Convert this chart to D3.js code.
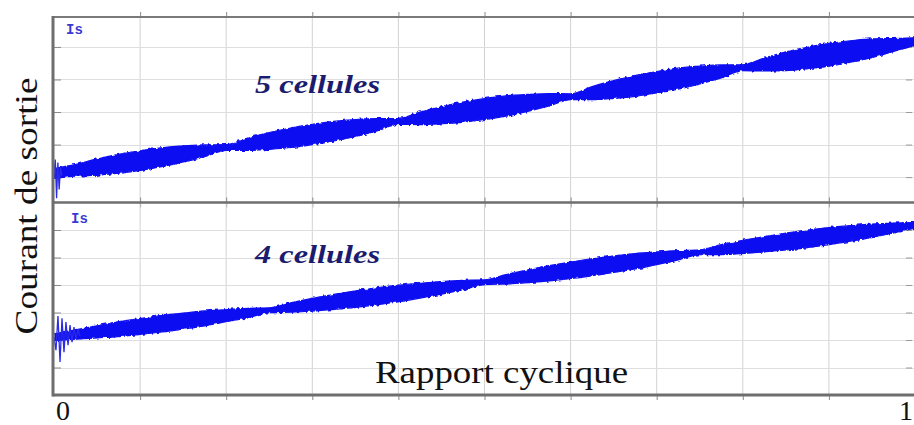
<!DOCTYPE html>
<html>
<head>
<meta charset="utf-8">
<script src="https://cdn.jsdelivr.net/npm/d3@7"></script>
<style>
  html, body { margin: 0; padding: 0; background: #ffffff; }
  svg { display: block; }
</style>
</head>
<body>
<svg id="chart" width="914" height="425"></svg>
<script>
// ---- data ----
const xTicks = [0, 0.1, 0.2, 0.3, 0.4, 0.5, 0.6, 0.7, 0.8, 0.9, 1.0];
const xTickLabels = ["0", "1"];
const yTicksTop = [1, 2, 3, 4, 5];
const yTicksBottom = [1, 2, 3, 4, 5, 6];

const dSamples = [0, 0.025, 0.05, 0.075, 0.1, 0.125, 0.15, 0.175, 0.2, 0.225, 0.25, 0.275, 0.3, 0.325, 0.35, 0.375,
  0.4, 0.425, 0.45, 0.475, 0.5, 0.525, 0.55, 0.575, 0.6, 0.625, 0.65, 0.675, 0.7, 0.725, 0.75, 0.775,
  0.8, 0.825, 0.85, 0.875, 0.9, 0.925, 0.95, 0.975, 1.0];

// 5 cellules : mean output current at the ripple nodes, and ripple half-amplitude
const nodesTop = [0, 0.2, 0.4, 0.6, 0.8, 1.0];
const meanTop = [1.11, 1.91, 2.71, 3.47, 4.36, 5.16];
const rippleTop = [0.15, 0.18, 0.25, 0.29, 0.30, 0.29, 0.25, 0.18,
  0.09, 0.19, 0.26, 0.30, 0.31, 0.30, 0.26, 0.19,
  0.09, 0.19, 0.26, 0.31, 0.32, 0.31, 0.26, 0.19,
  0.09, 0.20, 0.27, 0.32, 0.33, 0.32, 0.27, 0.20,
  0.09, 0.20, 0.29, 0.33, 0.35, 0.33, 0.29, 0.20, 0.12];

// 4 cellules
const nodesBottom = [0, 0.25, 0.5, 0.75, 1.0];
const meanBottom = [2.10, 3.08, 4.10, 5.19, 6.17];
const rippleBottom = [0.12, 0.17, 0.22, 0.27, 0.29, 0.30, 0.29, 0.27, 0.22, 0.17,
  0.09, 0.17, 0.23, 0.27, 0.30, 0.31, 0.30, 0.27, 0.23, 0.17,
  0.09, 0.17, 0.23, 0.28, 0.30, 0.31, 0.30, 0.28, 0.23, 0.17,
  0.09, 0.18, 0.24, 0.28, 0.31, 0.32, 0.31, 0.28, 0.24, 0.18, 0.10];

// start-up transients
const transTopD = [0, 0.0015, 0.003, 0.0045, 0.006, 0.0075, 0.009];
const transTopV = [1.11, 1.54, 0.35, 1.45, 0.62, 1.30, 1.05];
const transBotD = [0, 0.0023, 0.0046, 0.007, 0.0093, 0.0116, 0.0139, 0.0163, 0.0186, 0.0209, 0.0232, 0.0255, 0.0279, 0.0302];
const transBotV = [2.10, 1.63, 2.87, 1.20, 2.79, 1.56, 2.65, 1.81, 2.54, 1.92, 2.47, 2.03, 2.39, 2.14];

const panelLabels = ["Is", "Is"];
const seriesNames = ["5 cellules", "4 cellules"];
const xTitle = "Rapport cyclique";
const yTitle = "Courant de sortie";

// ---- layout ----
const svg = d3.select("#chart");
const W = 914, H = 425;
const left = 54, right = 915;
const top1 = 17, bot1 = 202.5, top2 = 202.5, bot2 = 395;

const x = d3.scaleLinear().domain([0, 1]).range([left, right]);
const yTop = d3.scaleLinear().domain([0.22, 5.92]).range([bot1, top1]);
const yBot = d3.scaleLinear().domain([0, 7]).range([bot2, top2]);

const defs = svg.append("defs");
const f = defs.append("filter").attr("id", "jag")
  .attr("x", "-2%").attr("y", "-30%").attr("width", "104%").attr("height", "160%");
f.append("feTurbulence").attr("type", "fractalNoise").attr("baseFrequency", "0.35 0.15")
  .attr("numOctaves", 1).attr("seed", 4).attr("result", "n");
f.append("feDisplacementMap").attr("in", "SourceGraphic").attr("in2", "n")
  .attr("scale", 4).attr("xChannelSelector", "B").attr("yChannelSelector", "G");

svg.append("rect").attr("width", W).attr("height", H).attr("fill", "#ffffff");

function panel(y, y0, y1, yTicks, nodes, means, ripple, tD, tV, label, lx, ly, name, nx, ny) {
  const g = svg.append("g");
  // grid
  g.append("g").selectAll("line").data(xTicks.slice(1)).join("line")
    .attr("x1", d => x(d)).attr("x2", d => x(d)).attr("y1", y0).attr("y2", y1)
    .attr("stroke", "#d2d2d2").attr("stroke-width", 1);
  g.append("g").selectAll("line").data(yTicks).join("line")
    .attr("x1", left).attr("x2", right).attr("y1", d => Math.round(y(d)) + 0.5).attr("y2", d => Math.round(y(d)) + 0.5)
    .attr("stroke", "#dedede").attr("stroke-width", 1);
  // inner tick marks
  g.append("g").attr("transform", `translate(${left},0)`)
    .call(d3.axisRight(y).tickValues(yTicks).tickSize(7).tickFormat(""))
    .call(s => s.select(".domain").remove())
    .call(s => s.selectAll("line").attr("stroke", "#8a8a8a"));
  g.append("g").attr("transform", `translate(${right - 3},0)`)
    .call(d3.axisLeft(y).tickValues(yTicks).tickSize(6).tickFormat(""))
    .call(s => s.select(".domain").remove())
    .call(s => s.selectAll("line").attr("stroke", "#9a9a9a"));
  g.append("g").attr("transform", `translate(0,${y1})`)
    .call(d3.axisBottom(x).tickValues(xTicks.slice(1)).tickSize(5).tickFormat(""))
    .call(s => s.select(".domain").remove())
    .call(s => s.selectAll("line").attr("stroke", "#8a8a8a"));
  g.append("g").attr("transform", `translate(0,${y0})`)
    .call(d3.axisTop(x).tickValues(xTicks.slice(1)).tickSize(5).tickFormat(""))
    .call(s => s.select(".domain").remove())
    .call(s => s.selectAll("line").attr("stroke", "#8a8a8a"));

  // signal envelope
  const mean = d3.scaleLinear().domain(nodes).range(means);
  const area = d3.area()
    .x((d, i) => x(d))
    .y0((d, i) => y(mean(d) - ripple[i]))
    .y1((d, i) => y(mean(d) + ripple[i]))
    .curve(d3.curveMonotoneX);
  g.append("path").datum(dSamples).attr("d", area)
    .attr("fill", "#0a0af2").attr("stroke", "#0a0af2").attr("stroke-width", 1.2)
    .attr("filter", "url(#jag)");
  // transient
  const tl = d3.line().x((d, i) => x(d)).y((d, i) => y(tV[i]));
  g.append("path").datum(tD).attr("d", tl)
    .attr("fill", "none").attr("stroke", "#2a2ae8").attr("stroke-width", 1.3);

  g.append("text").attr("x", lx).attr("y", ly).text(label)
    .attr("font-family", "Liberation Mono, monospace").attr("font-weight", "bold")
    .attr("font-size", 14).attr("fill", "#3a3ad2");
  g.append("text").attr("x", nx).attr("y", ny).text(name)
    .attr("font-family", "Liberation Serif, serif").attr("font-weight", "bold").attr("font-style", "italic")
    .attr("font-size", 25).attr("fill", "#1c1c6e")
    .attr("textLength", 125).attr("lengthAdjust", "spacingAndGlyphs");
}

panel(yTop, top1, bot1, yTicksTop, nodesTop, meanTop, rippleTop, transTopD, transTopV,
  panelLabels[0], 66, 34, seriesNames[0], 255, 93);
panel(yBot, top2, bot2, yTicksBottom, nodesBottom, meanBottom, rippleBottom, transBotD, transBotV,
  panelLabels[1], 71, 223, seriesNames[1], 255, 263);

// frames
svg.append("line").attr("x1", left - 1).attr("x2", W).attr("y1", top1).attr("y2", top1)
  .attr("stroke", "#7a7a7a").attr("stroke-width", 2);
svg.append("line").attr("x1", left - 1).attr("x2", W).attr("y1", bot1).attr("y2", bot1)
  .attr("stroke", "#6e6e6e").attr("stroke-width", 2.5);
svg.append("line").attr("x1", left - 1).attr("x2", W).attr("y1", bot2).attr("y2", bot2)
  .attr("stroke", "#6e6e6e").attr("stroke-width", 3);
svg.append("line").attr("x1", left - 1).attr("x2", left - 1).attr("y1", top1 - 1).attr("y2", bot2 + 1.5)
  .attr("stroke", "#6e6e6e").attr("stroke-width", 3);

// titles
svg.append("text").attr("x", 375).attr("y", 383).text(xTitle)
  .attr("font-family", "Liberation Serif, serif").attr("font-size", 32).attr("fill", "#111")
  .attr("textLength", 253).attr("lengthAdjust", "spacingAndGlyphs");
svg.append("text").attr("transform", "translate(37,206) rotate(-90)").attr("text-anchor", "middle")
  .text(yTitle)
  .attr("font-family", "Liberation Serif, serif").attr("font-size", 32).attr("fill", "#111")
  .attr("textLength", 257).attr("lengthAdjust", "spacingAndGlyphs");

// x tick labels
svg.append("text").attr("x", x(0) + 9).attr("y", 420).attr("text-anchor", "middle").text(xTickLabels[0])
  .attr("font-family", "Liberation Serif, serif").attr("font-size", 28).attr("fill", "#111");
svg.append("text").attr("x", W - 1).attr("y", 420).attr("text-anchor", "end").text(xTickLabels[1])
  .attr("font-family", "Liberation Serif, serif").attr("font-size", 28).attr("fill", "#111");
</script>
</body>
</html>
